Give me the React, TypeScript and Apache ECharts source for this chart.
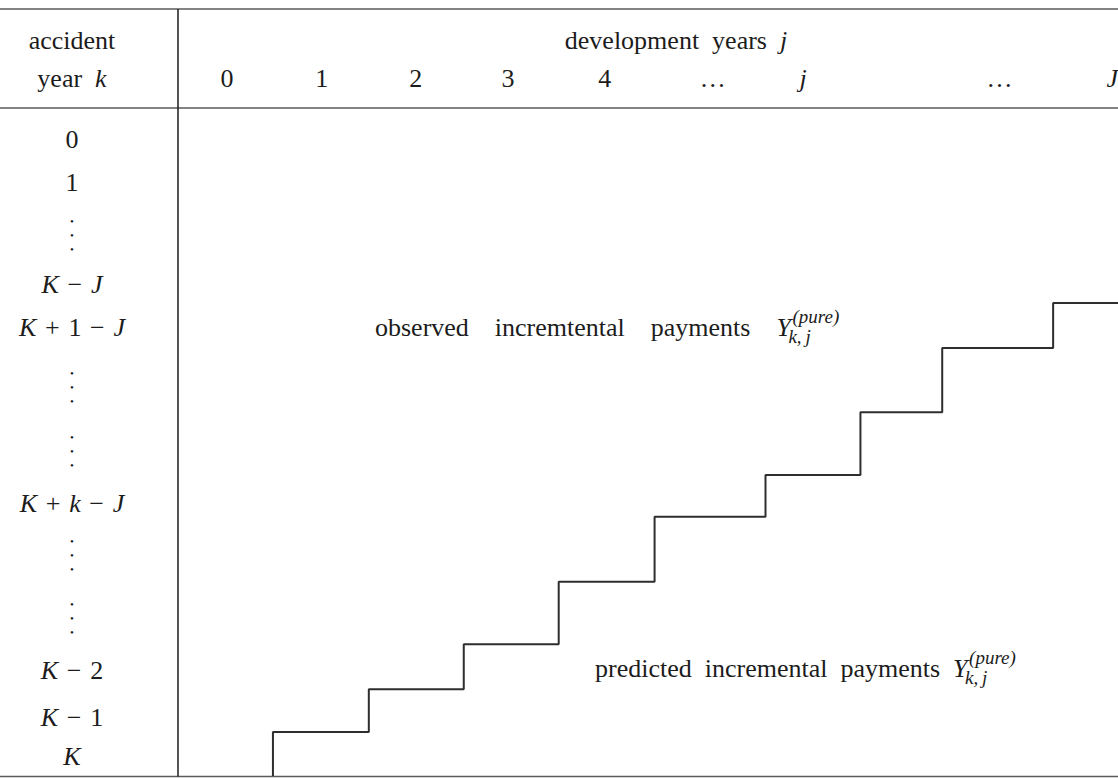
import React, { useEffect, useRef } from "react";
import * as echarts from "echarts";

// ---------- data ----------
// development years j: column label positions in column units (0..10 across the body)
const colLabels = ["0", "1", "2", "3", "4", "…", "j", "…", "J"];
const colPos = [0.52, 1.53, 2.53, 3.51, 4.54, 5.69, 6.65, 8.74, 9.94];

// accident years k: row label positions in row units (0..15 down the body)
const rowLabels = ["0", "1", "⋮", "K − J", "K + 1 − J", "⋮", "⋮", "K + k − J", "⋮", "⋮", "K − 2", "K − 1", "K"];
const rowPos = [0.7, 1.68, 2.85, 3.97, 4.92, 6.27, 7.7, 8.87, 10.04, 11.45, 12.62, 13.68, 14.57];

// staircase separating observed (upper left) from predicted (lower right)
const stepCols = [1.01, 2.03, 3.04, 4.05, 5.07, 6.25, 7.26, 8.13, 9.31, 10];
const stepRows = [15, 14.01, 13.05, 12.04, 10.64, 9.18, 8.24, 6.83, 5.39, 4.38];

const X_MAX = 10;
const Y_MAX = 15;

const headerLeft = ["accident", "year {i|k}"];
const headerTop = "development years {i|j}";
const observedText = "observed incremtental payments";
const predictedText = "predicted incremental payments";
const symbolY = "Y";
const symbolSup = "(pure)";
const symbolSub = "k,\u2009j";

// ---------- styling ----------
const FONT = "'Liberation Serif', 'Times New Roman', Times, serif";
const FS = 26;
const SS = 19;
const INK = "#1c1c1c";
const RULE = "#5a5a5a";
const EN = "\u2002";
const MATHSP = "\u2004";

const toRich = (s: string) =>
  s === "⋮"
    ? "{d|•\n•\n•}"
    : s.split(" ").join(MATHSP).replace(/[A-Za-z]/g, (m) => `{i|${m}}`);

const nearest = (arr: number[], v: number) => {
  let bi = 0;
  for (let i = 1; i < arr.length; i++) if (Math.abs(arr[i] - v) < Math.abs(arr[bi] - v)) bi = i;
  return bi;
};

export default function App() {
  const ref = useRef<HTMLDivElement>(null);

  useEffect(() => {
    const el = ref.current!;
    const chart = echarts.init(el, null, { renderer: "svg" });

    const ctx = document.createElement("canvas").getContext("2d")!;
    const measure = (s: string, size: number, style = "normal") => {
      ctx.font = `${style} ${size}px 'Liberation Serif'`;
      return ctx.measureText(s).width;
    };

    const axisRich = {
      i: { fontStyle: "italic", fontSize: FS, fontFamily: FONT, color: INK },
      d: { fontSize: 11, fontFamily: FONT, color: INK, lineHeight: 14 },
    };
    const gRich = {
      i: { fontStyle: "italic", fontSize: FS, fontFamily: FONT, fill: INK },
    };

    const C = 0.34; // centre of em box above baseline
    const T = (text: string, x: number, y: number, o: any = {}) => ({
      type: "text",
      x,
      y,
      silent: true,
      z: 10,
      style: {
        text,
        fill: INK,
        fontSize: o.size ?? FS,
        fontFamily: FONT,
        fontStyle: o.italic ? "italic" : "normal",
        align: o.align ?? "center",
        verticalAlign: "middle",
        textAlign: o.align ?? "center",
        textVerticalAlign: "middle",
        rich: gRich,
      },
    });

    const payment = (prefix: string, x0: number, baseline: number, gap: string) => {
      const txt = prefix.split(" ").join(gap) + gap;
      const w = measure(txt, FS);
      const yx = x0 + w;
      return [
        T(txt, x0, baseline - C * FS, { align: "left" }),
        T(symbolY, yx, baseline - C * FS, { align: "left", italic: true }),
        T(symbolSup, yx + 16, baseline - 13 - C * SS, { align: "left", italic: true, size: SS }),
        T(symbolSub, yx + 12, baseline + 7 - C * SS, { align: "left", italic: true, size: SS }),
      ];
    };

    const hl = (y: number) => ({
      type: "line",
      silent: true,
      shape: { x1: 0, y1: y, x2: 1118, y2: y },
      style: { stroke: RULE, lineWidth: 1.6 },
    });

    // staircase corners built from the step arrays
    const stair: number[][] = [];
    for (let i = 0; i < stepCols.length - 1; i++) {
      stair.push([stepCols[i], stepRows[i]]);
      stair.push([stepCols[i], stepRows[i + 1]]);
    }
    stair.push([stepCols[stepCols.length - 1], stepRows[stepRows.length - 1]]);

    chart.setOption({
      animation: false,
      backgroundColor: "#ffffff",
      grid: {
        left: 178,
        right: 0,
        top: 108,
        height: 668,
        containLabel: false,
        outerBoundsMode: "none",
      },
      xAxis: {
        type: "value",
        position: "top",
        min: 0,
        max: X_MAX,
        axisLine: { show: false },
        axisTick: { show: false },
        splitLine: { show: false },
        axisLabel: {
          customValues: colPos,
          margin: 30,
          verticalAlign: "middle",
          hideOverlap: false,
          fontSize: FS,
          fontFamily: FONT,
          color: INK,
          rich: axisRich,
          formatter: (v: number) => toRich(colLabels[nearest(colPos, v)]),
        },
      },
      yAxis: {
        type: "value",
        inverse: true,
        min: 0,
        max: Y_MAX,
        axisLine: { show: true, lineStyle: { color: "#2a2a2a", width: 1.6 } },
        axisTick: { show: false },
        splitLine: { show: false },
        axisLabel: {
          customValues: rowPos,
          margin: 106,
          align: "center",
          verticalAlign: "middle",
          hideOverlap: false,
          fontSize: FS,
          fontFamily: FONT,
          color: INK,
          rich: axisRich,
          formatter: (v: number) => toRich(rowLabels[nearest(rowPos, v)]),
        },
      },
      series: [
        {
          type: "line",
          data: stair,
          symbol: "none",
          silent: true,
          lineStyle: { color: "#2e2e2e", width: 2 },
          z: 5,
        },
      ],
      graphic: [
        hl(9),
        hl(108),
        hl(776.5),
        {
          type: "line",
          silent: true,
          shape: { x1: 178, y1: 9, x2: 178, y2: 108 },
          style: { stroke: "#2a2a2a", lineWidth: 1.6 },
        },
        T(headerLeft[0], 72, 40),
        T(headerLeft[1].replace(" ", EN), 72, 78),
        T(headerTop.split(" ").join(EN), 676, 40),
        ...payment(observedText, 375, 336, EN + EN),
        ...payment(predictedText, 595, 677, EN),
      ],
    });

    return () => chart.dispose();
  }, []);

  return (
    <div
      ref={ref}
      style={{ position: "fixed", left: 0, top: 0, width: 1118, height: 778, background: "#fff" }}
    />
  );
}
